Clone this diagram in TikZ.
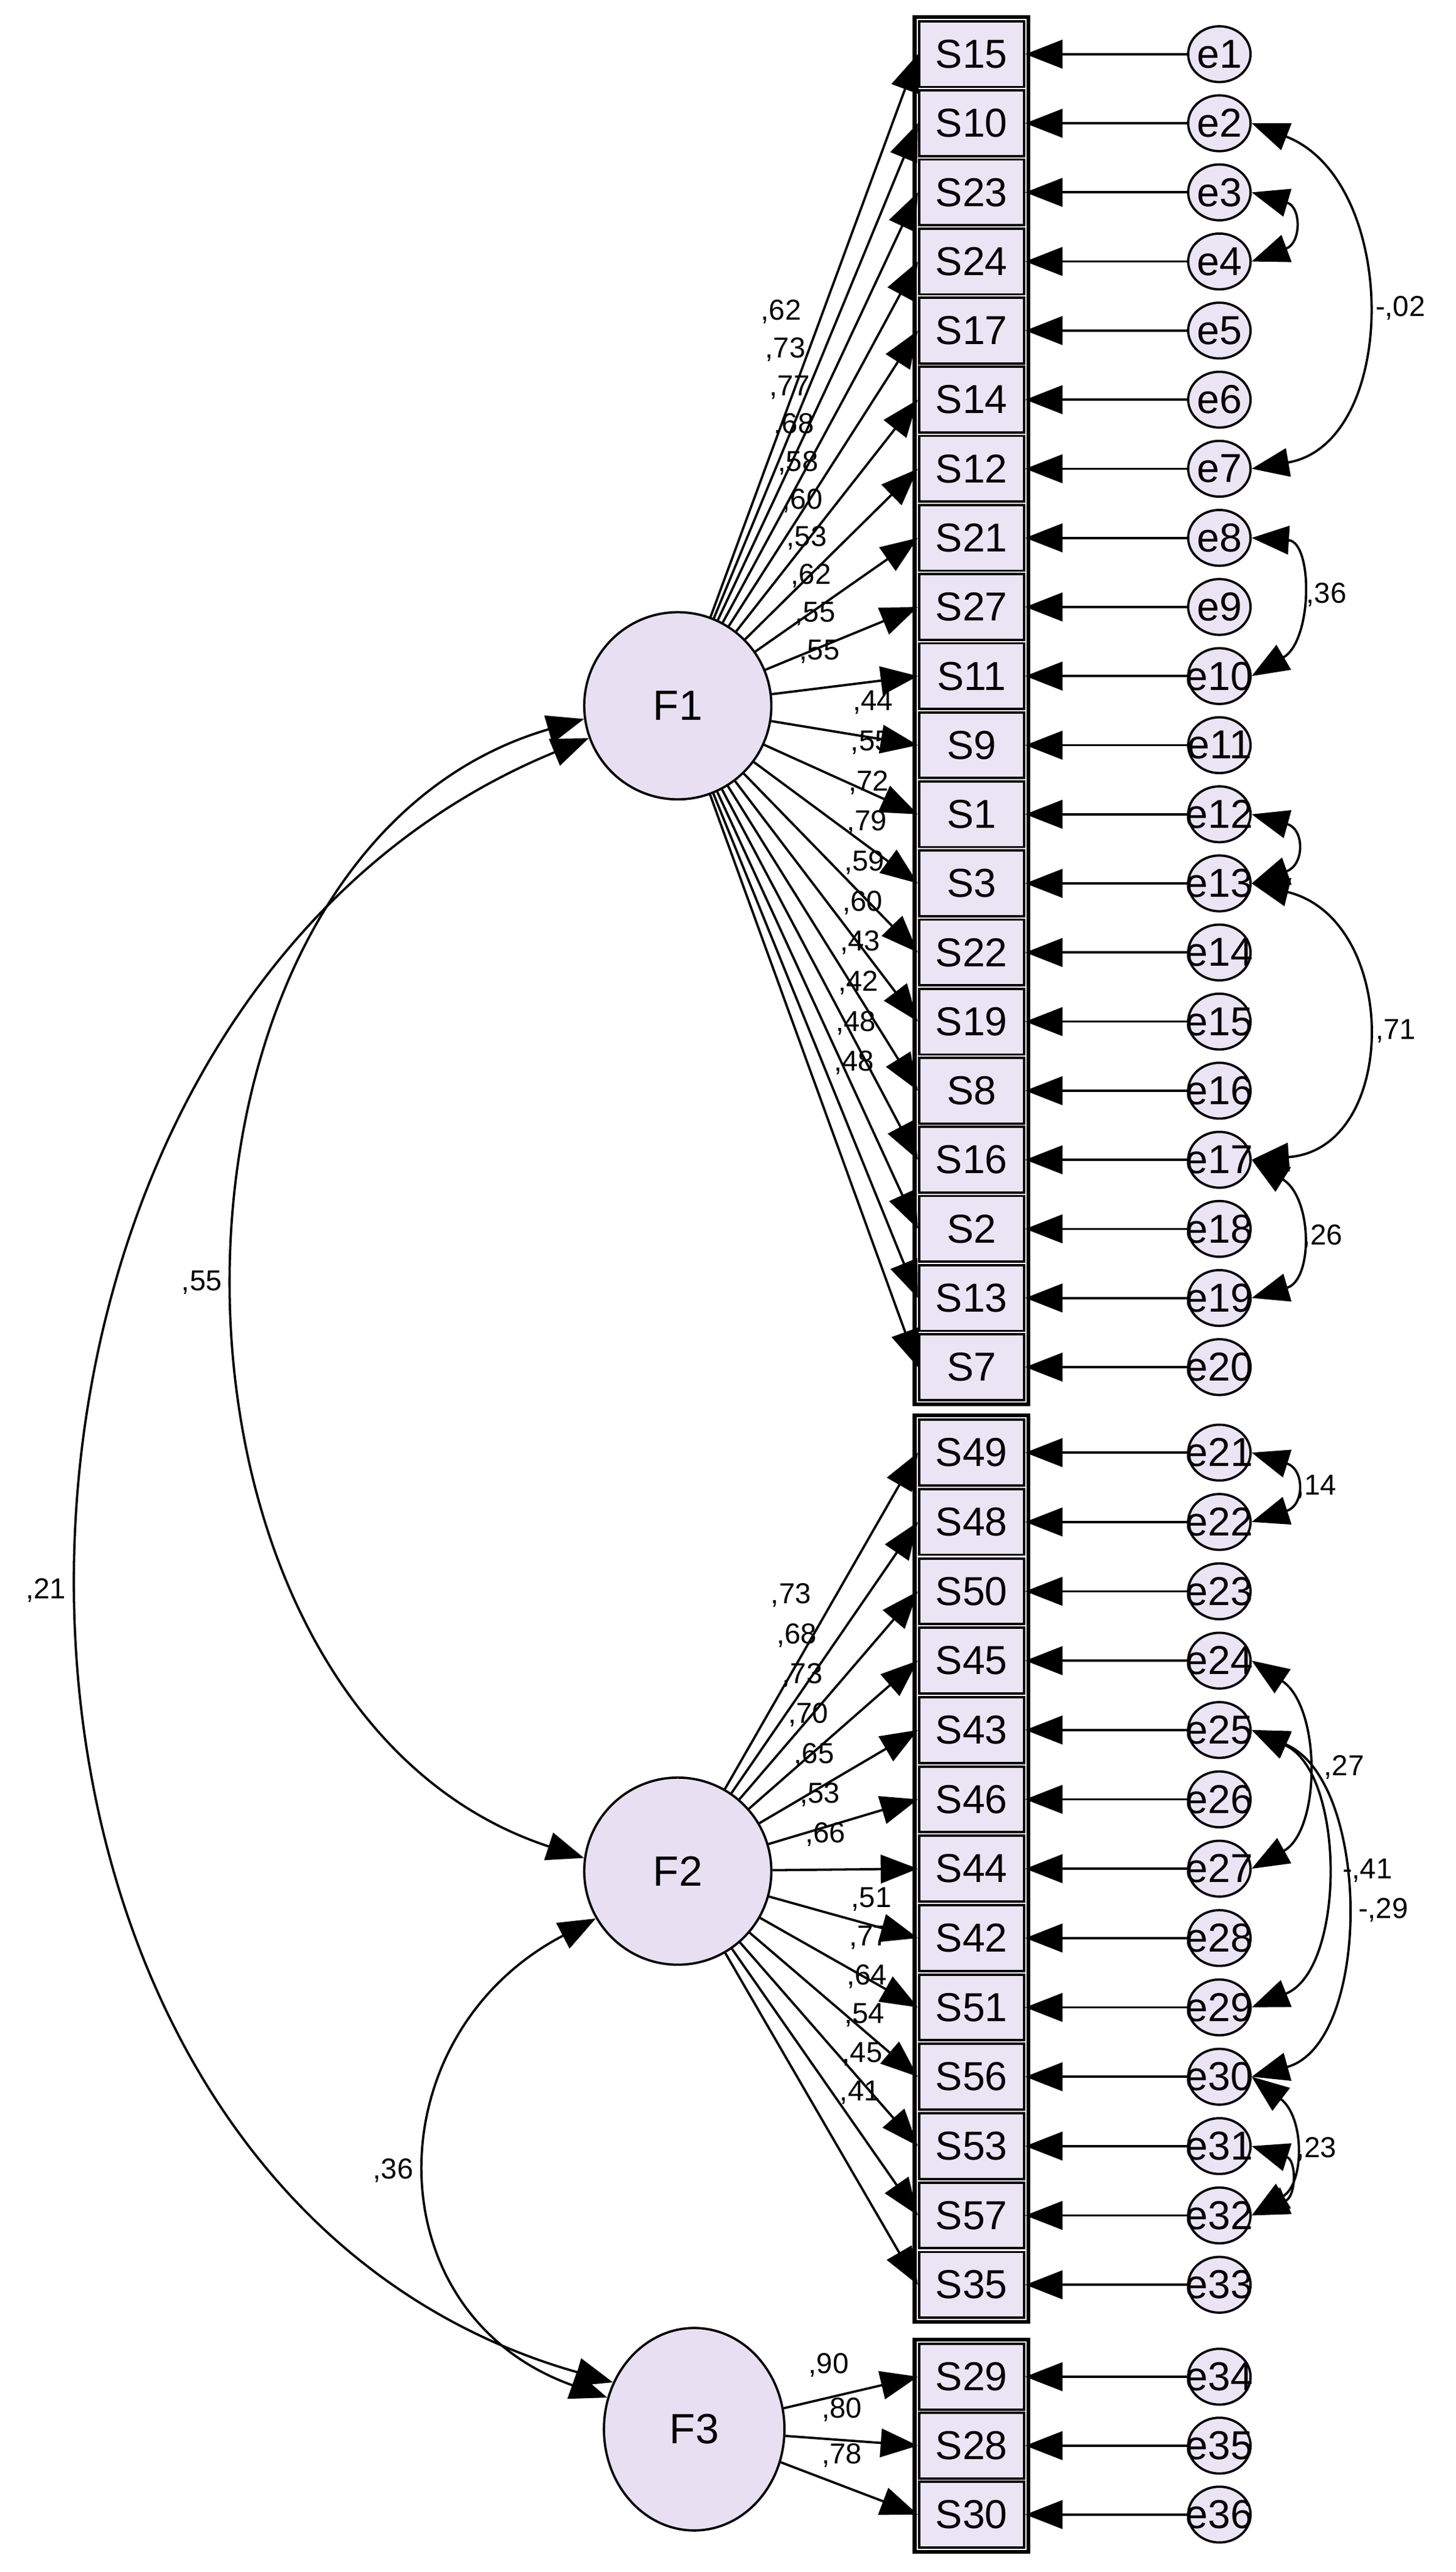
\documentclass[tikz,border=0pt]{standalone}
\usepackage{fontspec}
\setmainfont{Liberation Sans}
\usetikzlibrary{arrows.meta,calc,shapes.geometric}
\definecolor{boxfill}{RGB}{234,228,245}
\definecolor{latfill}{RGB}{232,224,242}
\tikzset{
  obs/.style={draw, line width=1.2pt, fill=boxfill, minimum width=1.92cm, minimum height=1.2cm, inner sep=0pt, font=\fontsize{21}{24}\selectfont},
  lat/.style={draw, circle, line width=1.2pt, fill=latfill, minimum size=3.42cm, inner sep=0pt, font=\fontsize{22}{26}\selectfont},
  err/.style={draw, ellipse, line width=1.2pt, fill=boxfill, minimum width=1.14cm, minimum height=1.02cm, inner sep=0pt, font=\fontsize{21}{24}\selectfont},
  load/.style={-{Triangle[length=0.68cm,width=0.52cm]}, line width=1.2pt},
  cov/.style={{Triangle[length=0.68cm,width=0.52cm]}-{Triangle[length=0.68cm,width=0.52cm]}, line width=1.2pt},
  lbl/.style={inner sep=0pt, font=\fontsize{15}{18}\selectfont}
}
\begin{document}
\begin{tikzpicture}[x=0.03cm, y=-0.03cm]
\useasboundingbox (0,0) rectangle (887,1567);

% factors
\node[lat] (F1) at (413,430) {F1};
\node[lat] (F2) at (413,1140) {F2};
\node[lat, minimum width=3.3cm, minimum height=3.7cm, ellipse] (F3) at (423,1480) {F3};

% items of F1
\foreach \s [count=\i] in {15,10,23,24,17,14,12,21,27,11,9,1,3,22,19,8,16,2,13,7} {
  \node[obs] (s\i) at (592,{33+42.1*(\i-1)}) {S\s};
  \node[err] (e\i) at (743,{33+42.1*(\i-1)}) {\makebox[0pt]{e\i}};
  \draw[load] (e\i) -- (s\i.east);
  \draw[load] (F1) -- (s\i.west);
}
% items of F2
\foreach \s [count=\j, evaluate=\j as \i using int(\j+20)] in {49,48,50,45,43,46,44,42,51,56,53,57,35} {
  \node[obs] (s\i) at (592,{885+42.25*(\j-1)}) {S\s};
  \node[err] (e\i) at (743,{885+42.25*(\j-1)}) {\makebox[0pt]{e\i}};
  \draw[load] (e\i) -- (s\i.east);
  \draw[load] (F2) -- (s\i.west);
}
% items of F3
\foreach \s [count=\j, evaluate=\j as \i using int(\j+33)] in {29,28,30} {
  \node[obs] (s\i) at (592,{1448+42*(\j-1)}) {S\s};
  \node[err] (e\i) at (743,{1448+42*(\j-1)}) {\makebox[0pt]{e\i}};
  \draw[load] (e\i) -- (s\i.east);
  \draw[load] (F3) -- (s\i.west);
}
\draw[line width=2pt] ($(s1.north west)+(-2,-2)$) rectangle ($(s20.south east)+(2,2)$);
\draw[line width=2pt] ($(s21.north west)+(-2,-2)$) rectangle ($(s33.south east)+(2,2)$);
\draw[line width=2pt] ($(s34.north west)+(-2,-2)$) rectangle ($(s36.south east)+(2,2)$);

% loadings
\foreach \v [count=\i] in {62,73,77,68,58,60,53,62,55,55}
  \node[lbl] (l\i) at ({476+2.6*(\i-1)},{190+23*(\i-1)}) {,\v};
\foreach \v [count=\j, evaluate=\j as \i using int(\j+10)] in {44,55,72,79,59,60,43,42,48,48}
  \node[lbl] (l\i) at ({532-1.3*(\j-1)},{428+24.4*(\j-1)}) {,\v};
\foreach \v [count=\j, evaluate=\j as \i using int(\j+20)] in {73,68,73,70,65,53,66}
  \node[lbl] (l\i) at ({482+3.5*(\j-1)},{972+24.3*(\j-1)}) {,\v};
\foreach \v [count=\j, evaluate=\j as \i using int(\j+27)] in {51,77,64,54,45,41}
  \node[lbl] (l\i) at ({531-1.4*(\j-1)},{1157+23.6*(\j-1)}) {,\v};
\node[lbl] (l34) at (505,1441) {,90};
\node[lbl] (l35) at (513,1468) {,80};
\node[lbl] (l36) at (513,1496) {,78};

% factor covariances
\draw[cov] (F1.188) .. controls (75,520) and (75,1040) .. (F2.172) node[lbl, pos=0.5, left=8pt] (c12) {,55};
\draw[cov] (F1.200) .. controls (-55,620) and (-55,1330) .. (F3.150) node[lbl, pos=0.5, left=8pt] (c13) {,21};
\draw[cov] (F2.210) .. controls (227,1240) and (227,1410) .. (F3.160) node[lbl, pos=0.5, left=8pt] (c23) {,36};

% error covariances
\draw[cov] (e2.east) .. controls (853,110) and (853,270) .. (e7.east) node[lbl, pos=0.5, right=6pt] (r1) {-,02};
\draw[cov] (e3.east) .. controls (793,126) and (793,148) .. (e4.east);
\draw[cov] (e8.east) .. controls (800,330) and (800,390) .. (e10.east) node[lbl, pos=0.5, right=4pt] (r2) {,36};
\draw[cov] (e12.east) .. controls (795,505) and (795,527) .. (e13.east);
\draw[cov] (e13.east) .. controls (853,560) and (853,700) .. (e17.east) node[lbl, pos=0.5, right=6pt] (r3) {,71};
\draw[cov] (e17.east) .. controls (800,730) and (800,780) .. (e19.east) node[lbl, pos=0.5, right=2pt] (r4) {,26};
\draw[cov] (e21.east) .. controls (795,895) and (795,917) .. (e22.east) node[lbl, pos=0.5, right=2pt] (r5) {,14};
\draw[cov] (e24.east) .. controls (805,1040) and (805,1115) .. (e27.east) node[lbl, pos=0.5, right=10pt] (r6) {,27};
\draw[cov] (e25.east) .. controls (820,1080) and (820,1200) .. (e29.east) node[lbl, pos=0.5, right=10pt] (r7) {-,41};
\draw[cov] (e25.east) .. controls (836,1085) and (836,1245) .. (e30.east) node[lbl, pos=0.5, right=8pt] (r8) {-,29};
\draw[cov] (e30.east) .. controls (795,1290) and (795,1330) .. (e32.east) node[lbl, pos=0.5, right=2pt] (r9) {,23};
\draw[cov] (e31.east) .. controls (790,1316) and (790,1338) .. (e32.east);
\end{tikzpicture}
\end{document}
